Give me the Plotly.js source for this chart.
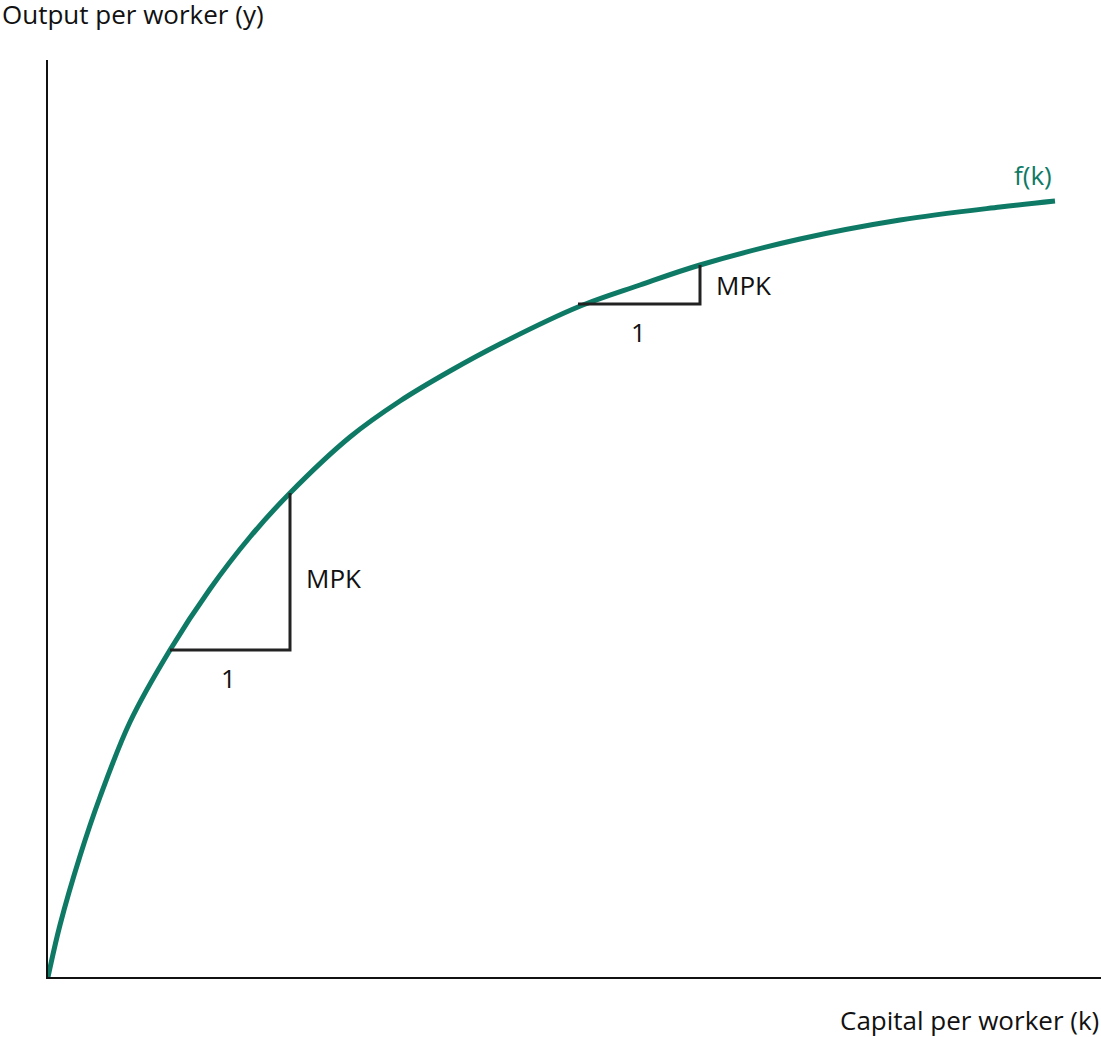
<!DOCTYPE html>
<html>
<head>
<meta charset="utf-8">
<script src="https://cdn.plot.ly/plotly-3.0.1.min.js"></script>
<style>body{margin:0;background:#fff}</style>
</head>
<body>
<div id="plotdiv" style="width:1101px;height:1037px"></div>
<script>
'use strict'
/* global Plotly */

// production function f(k)
const capital = [0, 12, 32, 52, 82, 122, 162, 202, 242, 302, 352, 402, 452, 530, 592, 652, 752, 852, 952, 1007]
const output = [0, 52, 121, 180, 255, 327, 388, 440, 484, 540, 576, 606, 633, 670, 692, 712, 738, 757, 770, 776]

// slope triangles: [x0, x1, yBase, yTop]
const triangles = [
  [122, 242, 327, 484],
  [530, 652, 673, 712]
]

const GREEN = '#0e7a66'
const FONT = 'Open Sans, sans-serif'

let traces = [{
  x: capital, y: output, mode: 'lines', line: {color: GREEN, width: 5, shape: 'spline', smoothing: 1}
}]
triangles.forEach(t => {
  traces.push({
    x: [t[0], t[1], t[1]], y: [t[2], t[2], t[3]],
    mode: 'lines', line: {color: '#222', width: 3}
  })
})

const annotations = [
  {x: 285, y: 399, text: 'MPK', xanchor: 'center'},
  {x: 180, y: 299, text: '1', xanchor: 'center'},
  {x: 695, y: 692, text: 'MPK', xanchor: 'center'},
  {x: 590, y: 645, text: '1', xanchor: 'center'},
  {x: 985, y: 802, text: 'f(k)', xanchor: 'center', font: {color: GREEN, size: 26, family: FONT}}
].map(a => Object.assign({showarrow: false, yanchor: 'middle', font: {color: '#111', size: 26, family: FONT}}, a))

annotations.push(
  {xref: 'paper', yref: 'paper', x: -0.046, y: 1.028, xanchor: 'left', yanchor: 'bottom',
    text: 'Output per worker (y)', showarrow: false, font: {size: 26, family: FONT, color: '#111'}},
  {xref: 'paper', yref: 'paper', x: 1, y: -0.025, xanchor: 'right', yanchor: 'top',
    text: 'Capital per worker (k)', showarrow: false, font: {size: 26, family: FONT, color: '#111'}}
)

const axis = {showline: true, linecolor: '#111', linewidth: 2, showgrid: false, zeroline: false,
  showticklabels: false, ticks: '', fixedrange: true}

const layout = {
  width: 1101, height: 1037,
  margin: {l: 48, r: 0, t: 60, b: 60},
  showlegend: false, hovermode: false,
  paper_bgcolor: '#fff', plot_bgcolor: '#fff',
  xaxis: Object.assign({range: [0, 1053]}, axis),
  yaxis: Object.assign({range: [0, 917]}, axis),
  annotations: annotations
}

Plotly.newPlot('plotdiv', traces, layout, {displayModeBar: false, staticPlot: true})
</script>
</body>
</html>
